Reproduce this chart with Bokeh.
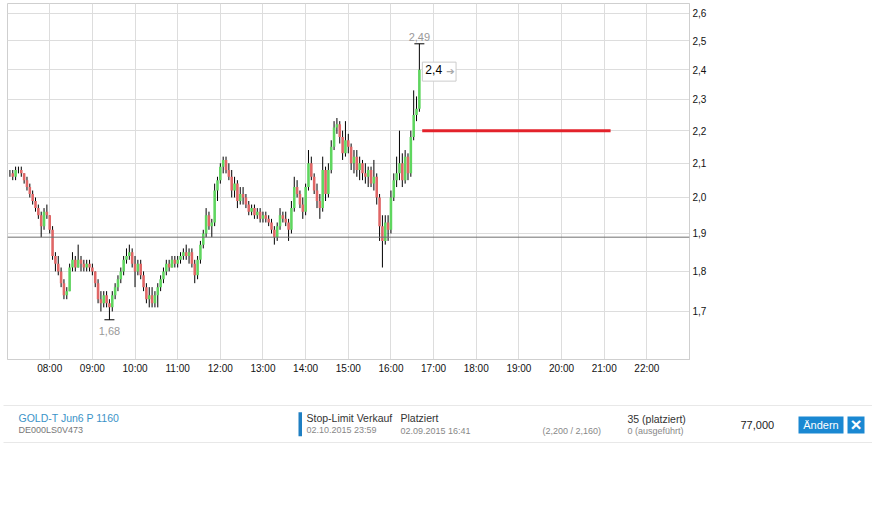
import numpy as np
import pandas as pd
from bokeh.plotting import figure
from bokeh.models import Range1d, FixedTicker, CustomJSTickFormatter, Span, Label
from bokeh.embed import file_html
from bokeh.resources import INLINE
from bokeh.core.properties import value

# ---------------- data ----------------
start_time = "2015-09-02 07:04"
interval = "4min"

open_ = [2.07,2.07,2.06,2.08,2.08,2.07,2.05,2.03,2.01,1.99,
         1.97,1.95,1.92,1.96,1.95,1.91,1.84,1.82,1.80,1.77,
         1.74,1.75,1.81,1.83,1.81,1.83,1.82,1.81,1.82,1.81,
         1.80,1.77,1.73,1.72,1.74,1.72,1.71,1.74,1.76,1.78,
         1.80,1.83,1.84,1.85,1.82,1.80,1.82,1.79,1.76,1.73,
         1.74,1.72,1.74,1.76,1.78,1.80,1.82,1.81,1.83,1.82,
         1.83,1.84,1.85,1.84,1.85,1.82,1.79,1.83,1.87,1.90,
         1.95,1.92,1.93,2.02,2.05,2.09,2.11,2.08,2.06,2.02,
         2.04,1.99,2.01,2.00,1.98,1.96,1.97,1.95,1.96,1.94,
         1.95,1.94,1.93,1.91,1.89,1.92,1.95,1.94,1.93,1.91,
         1.97,2.03,2.01,1.98,1.96,2.03,2.10,2.06,2.02,1.99,
         1.97,2.08,2.01,2.08,2.15,2.21,2.22,2.18,2.13,2.17,
         2.15,2.10,2.12,2.08,2.10,2.07,2.06,2.08,2.04,2.06,
         2.00,1.92,1.88,1.93,1.91,2.00,2.05,2.07,2.10,2.05,
         2.12,2.07,2.18,2.25,2.27]
high = [2.08,2.08,2.09,2.09,2.09,2.07,2.06,2.04,2.02,2.00,
        1.98,1.96,1.97,1.98,1.95,1.92,1.85,1.84,1.81,1.78,
        1.76,1.82,1.85,1.84,1.87,1.84,1.83,1.83,1.83,1.82,
        1.80,1.78,1.75,1.75,1.75,1.73,1.75,1.77,1.79,1.81,
        1.84,1.86,1.87,1.86,1.84,1.83,1.83,1.80,1.77,1.76,
        1.76,1.75,1.77,1.79,1.81,1.83,1.83,1.84,1.84,1.84,
        1.85,1.86,1.87,1.86,1.86,1.83,1.84,1.88,1.91,1.97,
        1.96,1.94,2.04,2.06,2.10,2.12,2.12,2.10,2.08,2.06,
        2.05,2.03,2.03,2.01,1.99,1.98,1.98,1.97,1.97,1.96,
        1.96,1.95,1.94,1.92,1.93,1.97,1.96,1.96,1.94,1.99,
        2.06,2.05,2.02,2.00,2.04,2.14,2.12,2.07,2.04,2.01,
        2.12,2.09,2.10,2.17,2.23,2.24,2.23,2.20,2.23,2.19,
        2.16,2.14,2.14,2.12,2.11,2.10,2.09,2.09,2.11,2.07,
        2.01,1.95,1.95,1.95,2.02,2.07,2.12,2.20,2.13,2.14,
        2.13,2.20,2.33,2.31,2.49]
low = [2.06,2.05,2.05,2.07,2.06,2.04,2.02,2.00,1.98,1.96,
       1.94,1.89,1.91,1.94,1.90,1.83,1.80,1.79,1.76,1.73,
       1.73,1.75,1.80,1.80,1.81,1.80,1.80,1.80,1.80,1.79,
       1.76,1.72,1.70,1.71,1.71,1.68,1.70,1.73,1.75,1.77,
       1.79,1.82,1.83,1.81,1.76,1.79,1.78,1.75,1.72,1.71,
       1.71,1.71,1.71,1.75,1.77,1.79,1.80,1.81,1.81,1.81,
       1.82,1.83,1.83,1.82,1.81,1.77,1.78,1.82,1.86,1.89,
       1.91,1.89,1.92,1.99,2.04,2.07,2.07,2.05,2.00,2.00,
       1.97,1.98,1.98,1.97,1.95,1.95,1.94,1.94,1.93,1.93,
       1.93,1.92,1.90,1.87,1.88,1.91,1.93,1.92,1.88,1.90,
       1.96,2.00,1.97,1.94,1.95,2.02,2.05,2.01,1.97,1.94,
       1.96,1.99,2.00,2.07,2.14,2.19,2.16,2.11,2.12,2.13,
       2.08,2.07,2.06,2.05,2.05,2.04,2.03,2.03,2.02,1.98,
       1.88,1.81,1.87,1.88,1.90,1.99,2.03,2.05,2.03,2.04,
       2.05,2.06,2.17,2.23,2.26]
close = [2.07,2.06,2.08,2.08,2.07,2.05,2.03,2.01,1.99,1.97,
         1.95,1.92,1.96,1.95,1.91,1.84,1.82,1.80,1.77,1.74,
         1.75,1.81,1.83,1.81,1.83,1.82,1.81,1.82,1.81,1.80,
         1.77,1.73,1.72,1.74,1.72,1.71,1.74,1.76,1.78,1.80,
         1.83,1.84,1.85,1.82,1.80,1.82,1.79,1.76,1.73,1.74,
         1.72,1.74,1.76,1.78,1.80,1.82,1.81,1.83,1.82,1.83,
         1.84,1.85,1.84,1.85,1.82,1.79,1.83,1.87,1.90,1.95,
         1.92,1.93,2.02,2.05,2.09,2.11,2.08,2.06,2.02,2.04,
         1.99,2.01,2.00,1.98,1.96,1.97,1.95,1.96,1.94,1.95,
         1.94,1.93,1.91,1.89,1.92,1.95,1.94,1.93,1.91,1.97,
         2.03,2.01,1.98,1.96,2.03,2.10,2.06,2.02,1.99,1.97,
         2.08,2.01,2.08,2.15,2.21,2.22,2.18,2.13,2.17,2.15,
         2.10,2.12,2.08,2.10,2.07,2.06,2.08,2.04,2.06,2.00,
         1.92,1.88,1.93,1.91,2.00,2.05,2.07,2.10,2.05,2.12,
         2.07,2.18,2.25,2.27,2.40]

x_ticks = list(range(8, 23))          # hours 08:00 .. 22:00
y_ticks = [1.7, 1.8, 1.9, 2.0, 2.1, 2.2, 2.3, 2.4, 2.5, 2.6]
ref_level = 1.89                      # previous close line
order_stop = 2.200
order_limit = 2.160
order_line_from = "16:44"
order_line_to = "21:09"

# order row
order_name = "GOLD-T Jun6 P 1160"
order_isin = "DE000LS0V473"
order_type = "Stop-Limit Verkauf"
order_valid = "02.10.2015 23:59"
order_status = "Platziert"
order_time = "02.09.2015 16:41"
order_qty_placed = 35
order_qty_done = 0
order_amount = "77,000"

# ---------------- derived ----------------
times = pd.date_range(start_time, periods=len(close), freq=interval)
t = np.array(times.hour + times.minute / 60.0, dtype=float)
o = np.array(open_); h = np.array(high); l = np.array(low); c = np.array(close)
up = c >= o
body_top = np.maximum(o, c)
body_bot = np.minimum(o, c)
colors = np.where(up, "#5fd65f", "#e06666")

def hours(s):
    hh, mm = s.split(":")
    return int(hh) + int(mm) / 60.0

def de(v, fmt="%.2f"):
    return (fmt % v).replace(".", ",")

FONT = "Liberation Sans"

p = figure(width=872, height=383,
           x_range=Range1d(7.01, 23.0), y_range=Range1d(1.5875, 2.6373),
           y_axis_type="log", y_axis_location="right",
           output_backend="svg", toolbar_location=None,
           min_border_left=7, min_border_top=3, min_border_bottom=24, min_border_right=183)
p.background_fill_color = "white"
p.border_fill_color = "white"
p.outline_line_color = "#cfcfcf"

p.xaxis.ticker = FixedTicker(ticks=x_ticks)
p.xaxis.formatter = CustomJSTickFormatter(code="const h = Math.round(tick); return (h < 10 ? '0' : '') + h + ':00';")
p.yaxis.ticker = FixedTicker(ticks=y_ticks)
p.yaxis.formatter = CustomJSTickFormatter(code="return tick.toFixed(1).replace('.', ',');")
for ax in (p.xaxis[0], p.yaxis[0]):
    ax.axis_line_color = "#cfcfcf"
    ax.major_tick_line_color = None
    ax.minor_tick_line_color = None
    ax.major_tick_out = 0
    ax.major_tick_in = 0
    ax.minor_tick_out = 0
    ax.minor_tick_in = 0
    ax.major_label_text_font = FONT
    ax.major_label_text_font_size = "10px"
    ax.major_label_text_color = "#111111"
p.xaxis.major_label_standoff = 3
p.yaxis.major_label_standoff = 3
p.xgrid.grid_line_color = "#dddddd"
p.ygrid.grid_line_color = "#dddddd"

p.add_layout(Span(location=ref_level, dimension="width", line_color="#707070", line_width=1))

# candles
p.segment(x0=t, y0=l, x1=t, y1=h, line_color="black", line_width=1)
p.vbar(x=t, width=3.6 / 60.0, top=body_top, bottom=body_bot, fill_color=colors, line_color=None)

# order line
p.segment(x0=[hours(order_line_from)], x1=[hours(order_line_to)],
          y0=[order_stop], y1=[order_stop], line_color="#e3222b", line_width=3)

# high / low markers
i_hi = int(np.argmax(h)); i_lo = int(np.argmin(l))
p.scatter(x=[t[i_hi], t[i_lo]], y=[h[i_hi], l[i_lo]], marker="dash", size=10,
          line_color="black", line_width=1)
p.text(x=[t[i_hi]], y=[h[i_hi]], text=[de(h[i_hi])], y_offset=-3,
       text_align="center", text_baseline="bottom", text_color="#999999",
       text_font=value(FONT), text_font_size="11px")
p.text(x=[t[i_lo]], y=[l[i_lo]], text=[de(l[i_lo])], y_offset=7,
       text_align="center", text_baseline="top", text_color="#999999",
       text_font=value(FONT), text_font_size="11px")

# last price box
last_txt = ("%g" % c[-1]).replace(".", ",")
p.add_layout(Label(x=t[-1], y=c[-1], x_offset=3, y_offset=-2, text=last_txt,
                   text_baseline="middle", text_font=FONT, text_font_size="12px",
                   text_color="black", background_fill_color="white",
                   border_line_color="#cccccc", padding=(3, 14, 3, 7)))
p.add_layout(Label(x=t[-1], y=c[-1], x_offset=27, y_offset=-2, text="\u2794",
                   text_baseline="middle", text_font="DejaVu Sans", text_font_size="10px",
                   text_color="#a8a8a8"))

# ---------------- order row (separate root below the chart) ----------------
q = figure(width=872, height=70, x_range=Range1d(0, 872), y_range=Range1d(70, 0),
           output_backend="svg", toolbar_location=None, x_axis_type=None, y_axis_type=None,
           min_border_left=0, min_border_right=0, min_border_top=0, min_border_bottom=0)
q.outline_line_color = None
q.grid.visible = False
q.segment(x0=[3, 3], x1=[872, 872], y0=[22, 59], y1=[22, 59], line_color="#e8e8e8", line_width=1)
q.quad(left=[298], right=[301.5], bottom=[28.7], top=[52.7], fill_color="#1f7fc2", line_color=None)

def txt(x, y, s, color, size, align="left", style="normal", font=FONT):
    q.text(x=[x], y=[y], text=[s], text_align=align, text_baseline="middle",
           text_color=color, text_font=value(font), text_font_size=size,
           text_font_style=style)

txt(18, 34, order_name, "#3b93c8", "10.5px")
txt(18, 46.5, order_isin, "#777777", "9px")
txt(306, 34, order_type, "#333333", "10.5px")
txt(306, 46.5, order_valid, "#888888", "9px")
txt(400, 34.5, order_status, "#333333", "10.5px")
txt(400, 47, order_time, "#888888", "9px")
txt(542, 47, "(%s / %s)" % (de(order_stop, "%.3f"), de(order_limit, "%.3f")), "#888888", "9px")
txt(627, 35, "%d (platziert)" % order_qty_placed, "#333333", "10.5px")
txt(627, 47.5, "%d (ausgeführt)" % order_qty_done, "#888888", "9px")
txt(740, 41.5, order_amount, "#222222", "11px")

q.quad(left=[798, 847], right=[843, 864], bottom=[50, 50], top=[33, 33],
       fill_color="#1a88d2", line_color=None)
txt(820.5, 41.5, "Ändern", "white", "11px", align="center")
txt(855.5, 41, "\u00d7", "white", "19px", align="center", style="bold")

open("out.html", "w").write(file_html([p, q], INLINE))
